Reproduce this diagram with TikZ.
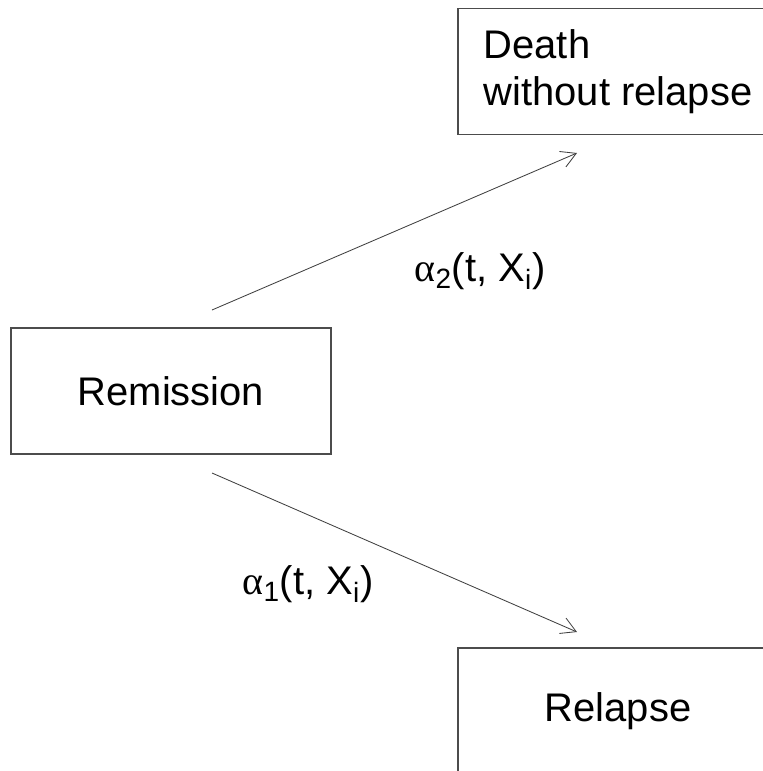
\documentclass[tikz,border=0pt]{standalone}
\usepackage{fontspec}
\setmainfont{Liberation Sans}
\newfontfamily\greekfont{Liberation Serif}
\usetikzlibrary{arrows.meta}

\tikzset{
  trans/.style={draw=black!75, line width=0.6pt,
    -{Straight Barb[length=3.7mm,width=4.2mm]}},
  rate/.style={inner sep=0pt}
}

\newcommand{\hazard}[1]{{\greekfont α}\textsubscript{#1}(t, X\textsubscript{i})}

\begin{document}
\begin{tikzpicture}[x=0.025cm,y=-0.025cm,
    font=\fontsize{28.4pt}{33.6pt}\selectfont]

      \clip (0,0) rectangle (763,771);

      \begin{scope}[every node/.style={draw=black!70, line width=1pt,
          minimum width=8cm, minimum height=3.15cm, inner sep=0pt}]
        \node (remission) at (171,391) {Remission};
        \node[align=left] (death) at (618,71.5) {Death\\without relapse};
        \node (relapse) at (618,711) {Relapse};
      \end{scope}

      % free ends of the transitions
      \coordinate (up0) at (212,310);
      \coordinate (up1) at (577,153);
      \coordinate (dn0) at (212,473);
      \coordinate (dn1) at (577,632);

      \draw[trans] (up0) -- (up1);
      \draw[trans] (dn0) -- (dn1);

      \node[rate] (alpha2) at (480,271) {\hazard{2}};
      \node[rate] (alpha1) at (308,584) {\hazard{1}};

    \end{tikzpicture}
\end{document}
